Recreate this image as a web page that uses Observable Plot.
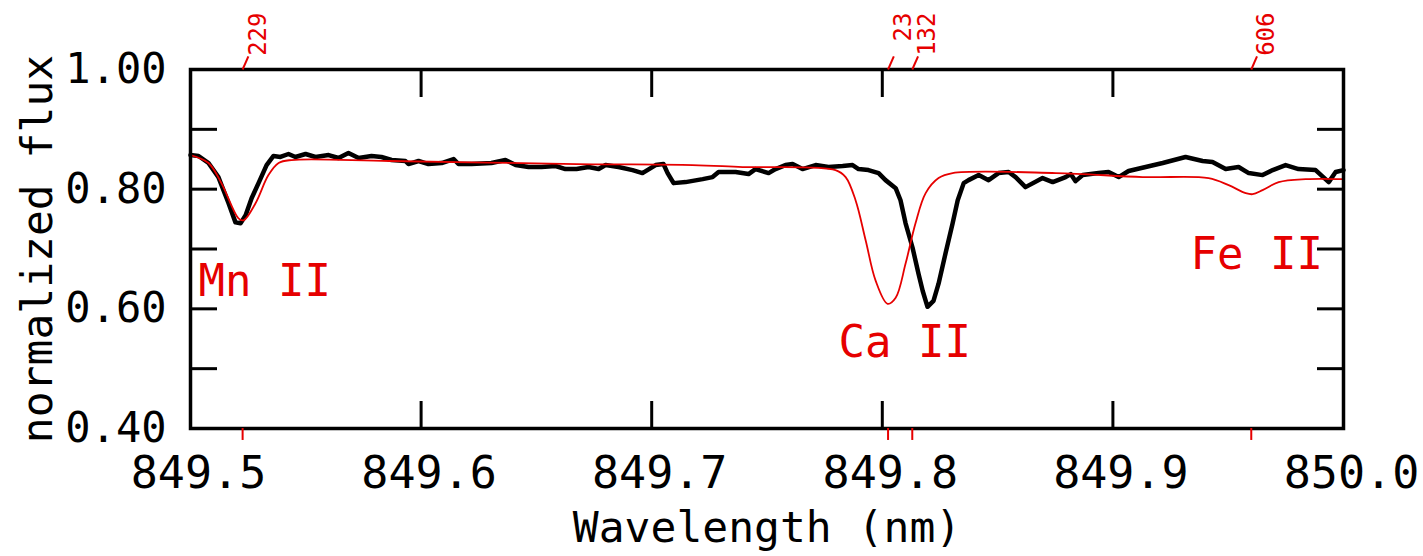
<!DOCTYPE html>
<html><head><meta charset="utf-8">
<script src="https://cdn.jsdelivr.net/npm/d3@7"></script>
<script src="https://cdn.jsdelivr.net/npm/@observablehq/plot@0.6"></script>
<style>body{margin:0;background:#fff}</style>
</head><body><div id="chart"></div>
<script>
// Observed spectrum (black)
const obsWl = [849.5000,849.5035,849.5078,849.5121,849.5165,849.5195,849.5217,849.5239,849.5265,849.5295,849.5330,849.5360,849.5390,849.5425,849.5455,849.5499,849.5542,849.5599,849.5642,849.5685,849.5729,849.5785,849.5828,849.5872,849.5932,849.5945,849.5989,849.6032,849.6089,849.6141,849.6162,849.6219,849.6305,849.6366,849.6410,849.6466,849.6522,849.6583,849.6626,849.6674,849.6726,849.6770,849.6800,849.6856,849.6917,849.6960,849.7017,849.7051,849.7069,849.7095,849.7147,849.7221,849.7264,849.7290,849.7364,849.7420,849.7450,849.7507,849.7537,849.7580,849.7611,849.7654,849.7711,849.7767,849.7828,849.7871,849.7897,849.7940,849.7984,849.8014,849.8058,849.8079,849.8101,849.8131,849.8157,849.8175,849.8196,849.8222,849.8244,849.8274,849.8305,849.8327,849.8353,849.8374,849.8418,849.8461,849.8504,849.8548,849.8578,849.8621,849.8695,849.8739,849.8795,849.8817,849.8838,849.8869,849.8938,849.8981,849.9025,849.9068,849.9142,849.9216,849.9315,849.9389,849.9432,849.9489,849.9545,849.9589,849.9649,849.9693,849.9749,849.9805,849.9879,849.9936,849.9966,850.0000];
const obsFlux = [0.857,0.8555,0.8437,0.8202,0.7765,0.7445,0.7429,0.7563,0.7849,0.8101,0.8403,0.8555,0.8538,0.8588,0.8538,0.8588,0.8538,0.8570,0.8521,0.8605,0.8521,0.8555,0.8538,0.8487,0.8471,0.8420,0.8471,0.8420,0.8437,0.8504,0.8420,0.8420,0.8437,0.8487,0.8403,0.8370,0.8370,0.8387,0.8336,0.8336,0.8370,0.8336,0.8403,0.8370,0.8319,0.8269,0.8403,0.8420,0.8269,0.8101,0.8118,0.8168,0.8202,0.8286,0.8286,0.8252,0.8336,0.8269,0.8336,0.8403,0.8420,0.8336,0.8403,0.8370,0.8387,0.8403,0.8336,0.8319,0.8269,0.8151,0.8017,0.7815,0.7429,0.7025,0.6588,0.6302,0.6034,0.6134,0.6420,0.6924,0.7429,0.7815,0.8101,0.8151,0.8235,0.8151,0.8269,0.8286,0.8202,0.8034,0.8185,0.8118,0.8202,0.8252,0.8134,0.8235,0.8269,0.8286,0.8202,0.8303,0.8370,0.8437,0.8538,0.8471,0.8454,0.8336,0.8370,0.8269,0.8235,0.8319,0.8403,0.8336,0.8319,0.8118,0.8286,0.8319];

// Synthetic model spectrum (red)
const modelWl = [849.5000,849.5078,849.5134,849.5208,849.5230,849.5282,849.5338,849.5382,849.5438,849.5863,849.6675,849.7177,849.7394,849.7797,849.7841,849.7884,849.7928,849.7971,849.8023,849.8058,849.8101,849.8144,849.8188,849.8244,849.8305,849.8752,849.9129,849.9415,849.9502,849.9576,849.9606,849.9649,849.9719,849.9836,850.0000];
const modelFlux = [0.857,0.8437,0.8101,0.7513,0.7479,0.7765,0.8235,0.8437,0.8487,0.8471,0.8420,0.8403,0.8370,0.8319,0.8202,0.7815,0.7143,0.6471,0.6084,0.6185,0.6756,0.7429,0.7933,0.8185,0.8269,0.8269,0.8202,0.8185,0.8067,0.7933,0.7916,0.7983,0.8118,0.8168,0.8168];

// Line identifications
const lineIds = ["229","23","132","606"];
const lineWl = [849.5226,849.8025,849.8130,849.9600];
const ionNames = ["Mn II","Ca II","Fe II"];
const ionWl = [849.5035,849.7810,849.9337];
const ionFlux = [0.6454,0.5428,0.6908];

// Axes
const xTicks = [849.5,849.6,849.7,849.8,849.9,850.0];
const xTickLabels = ["849.5","849.6","849.7","849.8","849.9","850.0"];
const yTicks = [0.4,0.5,0.6,0.7,0.8,0.9,1.0];
const yLabelTicks = [0.4,0.6,0.8,1.0];
const yTickLabels = ["0.40","0.60","0.80","1.00"];
const xTitle = "Wavelength (nm)";
const yTitle = "normalized flux";

const RED = "#e60000";
const FONT = "'DejaVu Sans Mono', 'Liberation Mono', monospace";

const obs = obsWl.map((w, i) => ({w, f: obsFlux[i]}));
const model = modelWl.map((w, i) => ({w, f: modelFlux[i]}));
const lines = lineWl.map((w, i) => ({w, id: lineIds[i]}));
const ions = ionNames.map((n, i) => ({n, w: ionWl[i], f: ionFlux[i]}));

const chart = Plot.plot({
  width: 1423,
  height: 556,
  marginLeft: 190,
  marginRight: 80,
  marginTop: 69,
  marginBottom: 128,
  style: {fontFamily: FONT, background: "#fff", color: "#000"},
  x: {domain: [849.5, 850.0]},
  y: {domain: [0.4, 1.0]},
  marks: [
    Plot.line(obs, {x: "w", y: "f", stroke: "#000", strokeWidth: 4.5, strokeLinejoin: "round"}),
    Plot.line(model, {x: "w", y: "f", stroke: RED, strokeWidth: 1.8, curve: "catmull-rom"}),
    // inward ticks
    Plot.axisX({anchor: "bottom", ticks: xTicks, tickSize: -27, strokeWidth: 3, tickFormat: () => "", label: null}),
    Plot.axisX({anchor: "top", ticks: xTicks, tickSize: -27, strokeWidth: 3, tickFormat: () => "", label: null}),
    Plot.axisY({anchor: "left", ticks: yTicks, tickSize: -27, strokeWidth: 3, tickFormat: () => "", label: null}),
    Plot.axisY({anchor: "right", ticks: yTicks, tickSize: -27, strokeWidth: 3, tickFormat: () => "", label: null}),
    // tick labels
    Plot.axisX({anchor: "bottom", ticks: xTicks, tickSize: 0, tickPadding: 28, dx: 8, fontSize: 45,
      tickFormat: d => xTickLabels[xTicks.indexOf(d)], label: null}),
    Plot.axisY({anchor: "left", ticks: yLabelTicks, tickSize: 0, tickPadding: 24, fontSize: 42,
      tickFormat: d => yTickLabels[yLabelTicks.indexOf(d)], label: null}),
    Plot.frame({stroke: "#000", strokeWidth: 3.5}),
    // axis titles
    Plot.text([xTitle], {frameAnchor: "bottom", dy: 113, fontSize: 43, fill: "#000"}),
    Plot.text([yTitle], {frameAnchor: "left", textAnchor: "middle", dx: -152, rotate: -90, fontSize: 43, fill: "#000"}),
    // line markers
    Plot.ruleX(lines, {x: "w", y1: 0.4, y2: 0.38, stroke: RED, strokeWidth: 2}),
    Plot.link(lines, {x1: "w", x2: d => d.w + 0.0025, y1: 1.0, y2: 1.022, stroke: RED, strokeWidth: 2}),
    Plot.text(lines, {x: "w", text: "id", frameAnchor: "top", dy: -57, dx: 6, rotate: -90, textAnchor: "end", fontSize: 24, fill: RED}),
    Plot.text(ions, {x: "w", y: "f", text: "n", textAnchor: "start", fontSize: 44, fill: RED})
  ]
});
document.getElementById("chart").appendChild(chart);
</script>
</body></html>
